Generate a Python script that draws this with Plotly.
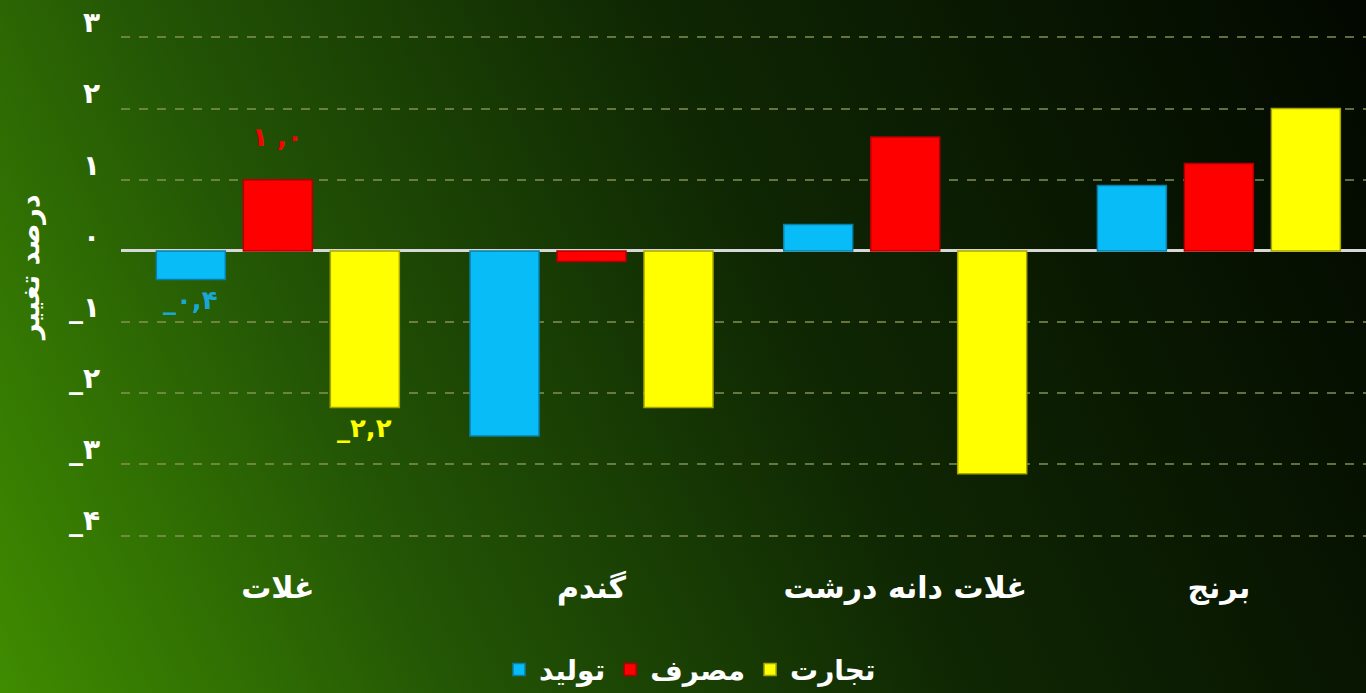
import base64
import plotly.graph_objects as go

# ---- data ----
categories = ["غلات", "گندم", "غلات دانه درشت", "برنج"]
series_names = ["تولید", "مصرف", "تجارت"]
production = [-0.4, -2.6, 0.37, 0.92]
consumption = [1.0, -0.15, 1.6, 1.23]
trade = [-2.2, -2.2, -3.13, 2.0]
series_values = [production, consumption, trade]
series_colors = ["#08bdf7", "#ff0000", "#ffff00"]
series_lines = ["#0a7fa8", "#b00000", "#a8a800"]
label_colors = ["#1aa7d6", "#ff0000", "#ffff00"]
label_texts = ["_۰,۴", "۱ ,۰", "_۲,۲"]   # labels shown for the first category only
tick_vals = [-4, -3, -2, -1, 0, 1, 2, 3]
tick_text = ["_۴", "_۳", "_۲", "_۱", "۰", "۱", "۲", "۳"]
y_title = "درصد تغییر"

FONT = "DejaVu Sans"
W, H = 1366, 693
ml, mr, mt, mb = 121, 0, 36, 156
bargap, bargroupgap = 0.168, 0.207
xr = [-0.5, 3.469]
yr = [-4.02, 3.02]

fig = go.Figure()
for name, vals, col, lc in zip(series_names, series_values, series_colors, series_lines):
    fig.add_trace(go.Bar(
        x=categories, y=vals, name=name,
        marker=dict(color=col, line=dict(color=lc, width=1.5)),
        hoverinfo="x+y",
    ))

# data labels for first category (grouped bar offsets computed from bar settings)
pw = W - ml - mr
ph = H - mt - mb
px_per_cat = pw / (xr[1] - xr[0])
slot = (1 - bargap) / 3 * px_per_cat
for i, (vals, txt, col) in enumerate(zip(series_values, label_texts, label_colors)):
    v = vals[0]
    up = v >= 0
    fig.add_annotation(
        x=categories[0], y=v, xref="x", yref="y",
        text=txt, showarrow=False,
        xshift=(i - 1) * slot,
        yanchor="bottom" if up else "top",
        yshift=26 if up else -4,
        font=dict(family=FONT, size=26, color=col, weight="bold"),
    )

# y-axis title
fig.add_annotation(
    text=y_title, textangle=-90, showarrow=False,
    xref="paper", yref="paper",
    x=-(ml - 30) / pw, xanchor="center",
    y=1 - (268 - mt) / ph, yanchor="middle",
    font=dict(family=FONT, size=27, color="white", weight="bold"),
)

# gradient background as svg image
svg = f'''<svg xmlns="http://www.w3.org/2000/svg" width="{W}" height="{H}" viewBox="0 0 {W} {H}" preserveAspectRatio="none">
<defs><linearGradient id="g" gradientUnits="userSpaceOnUse" x1="0" y1="{H}" x2="{W}" y2="60">
<stop offset="0" stop-color="#3f8c00"/>
<stop offset="0.28" stop-color="#235505"/>
<stop offset="0.58" stop-color="#0f2703"/>
<stop offset="1" stop-color="#030900"/>
</linearGradient></defs>
<rect width="{W}" height="{H}" fill="url(#g)"/></svg>'''
src = "data:image/svg+xml;base64," + base64.b64encode(svg.encode()).decode()
fig.add_layout_image(dict(
    source=src, xref="paper", yref="paper",
    x=-ml / pw, y=1 + mt / ph, sizex=W / pw, sizey=H / ph,
    xanchor="left", yanchor="top", sizing="stretch", layer="below",
))

fig.update_layout(
    width=W, height=H,
    margin=dict(l=ml, r=mr, t=mt, b=mb, autoexpand=False),
    paper_bgcolor="#153003", plot_bgcolor="rgba(0,0,0,0)",
    barmode="group", bargap=bargap, bargroupgap=bargroupgap,
    font=dict(family=FONT, color="white"),
    showlegend=True,
    legend=dict(
        orientation="h", x=(690 - ml) / pw, xanchor="center",
        y=-0.215, yanchor="top",
        font=dict(family=FONT, size=28, color="white", weight="bold"),
        bgcolor="rgba(0,0,0,0)", itemwidth=30, traceorder="normal",
    ),
    xaxis=dict(
        range=xr, showgrid=False, zeroline=False, showline=False,
        ticks="", ticklabelstandoff=30,
        tickfont=dict(family=FONT, size=30, color="white", weight="bold"),
    ),
    yaxis=dict(
        range=yr, tickvals=tick_vals, ticktext=tick_text,
        showgrid=True, gridcolor="rgba(140,150,90,0.7)", gridwidth=1.5, griddash="dash",
        zeroline=True, zerolinecolor="#d8d8d8", zerolinewidth=3,
        showline=False, ticks="", ticklabelstandoff=20, ticklabelshift=-15,
        tickfont=dict(family=FONT, size=28, color="white", weight="bold"),
    ),
)

fig.write_html(
    "out.html",
    config={"displayModeBar": False},
    post_script="document.body.style.margin='0';document.body.style.overflow='hidden';",
)
